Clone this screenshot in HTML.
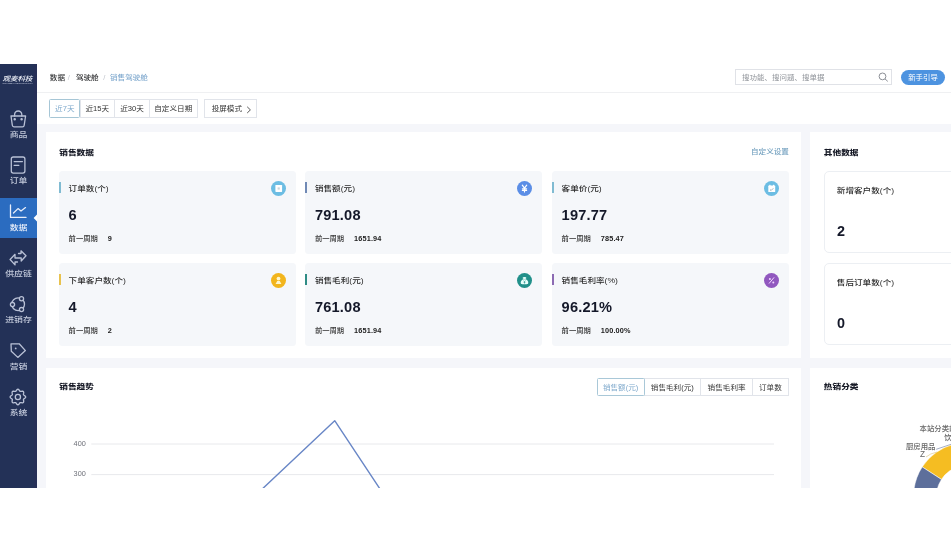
<!DOCTYPE html>
<html><head><meta charset="utf-8">
<style>
*{margin:0;padding:0;box-sizing:border-box}
html,body{width:951px;height:552px;background:#fff;overflow:hidden}
body{position:relative;will-change:transform;font-family:"Liberation Sans","Noto Sans CJK SC",sans-serif;color:#333}
.a{position:absolute;white-space:nowrap}
#side{position:absolute;left:0;top:64px;width:37px;height:424px;background:#233157;box-shadow:inset -3px 0 0 #262f57}
#act{position:absolute;left:0;top:198px;width:37px;height:40px;background:#2b6cc0}
.nt{position:absolute;left:0;width:37px;text-align:center;font-size:8.9px;line-height:10px;color:#c3cadb;font-weight:500;transform:scaleY(.82)}
#bg{position:absolute;left:37px;top:123.5px;width:914px;height:364.5px;background:#f5f6fa}
.card{position:absolute;background:#fff}
.ct{position:absolute;font-size:8.7px;font-weight:900;color:#171a26;line-height:12px;transform:scaleY(.78)}
.sc{position:absolute;width:236.5px;height:83px;background:#f5f7fa;border-radius:3.5px}
.sc .bar{position:absolute;left:0;top:10.8px;width:2.1px;height:11.4px}
.sc .t{position:absolute;left:9.6px;top:11.2px;font-size:8.6px;line-height:12px;color:#2a2a2a;font-weight:500;transform:scaleY(.85)}
.sc .v{position:absolute;left:9.6px;top:36px;font-size:14.6px;line-height:16px;font-weight:bold;color:#141829;letter-spacing:.2px}
.sc .p{position:absolute;left:9.6px;top:63.3px;font-size:7.3px;line-height:10px;color:#333;font-weight:500}
.sc .p b{margin-left:10px;color:#222;letter-spacing:.15px;font-weight:bold}
.sc .ic{position:absolute;right:9.7px;top:10px;width:15px;height:15px;border-radius:50%}
.sc .ic svg{display:block}
.oc{position:absolute;width:140px;height:82px;background:#fff;border:1px solid #eceff3;border-radius:5px}
.oc .t{position:absolute;left:12.3px;top:12.4px;font-size:8.6px;line-height:12px;color:#2a2a2a;font-weight:500;transform:scaleY(.85)}
.oc .v{position:absolute;left:12.6px;top:50.6px;font-size:14.4px;line-height:16px;font-weight:bold;color:#141829}
.q{display:inline-block;transform:scaleY(.85)}
.btn{position:absolute;height:19px;border:1px solid #e1e4ea;background:#fff;font-size:7.6px;line-height:17px;text-align:center;color:#333}
</style></head><body>

<!-- sidebar -->
<div id="side"></div>
<div id="act"></div>
<div class="a" style="left:2.4px;top:74.2px;width:32px;font-size:7.6px;line-height:10px;color:#eef1f8;font-weight:500;font-style:italic;letter-spacing:-.1px;transform:scaleY(.85)">观麦科技</div>
<div class="a" style="left:2.6px;top:82.4px;width:30px;font-size:2.45px;line-height:3px;color:#b3bbd0;letter-spacing:.05px;font-weight:bold">GUANMAI TECHNOLOGY</div>
<svg class="a" style="left:0;top:0" width="37" height="552" viewBox="0 0 37 552" fill="none" stroke="#b9c1d6" stroke-width="1.3" stroke-linecap="round" stroke-linejoin="round">
 <!-- bag -->
 <path d="M14.6,116 V114.6 A3.6,3.6 0 0 1 21.8,114.6 V116"/>
 <path d="M11,116 H25.6 L24.2,125.2 A1.8,1.8 0 0 1 22.4,126.8 H14 A1.8,1.8 0 0 1 12.3,125.2 Z"/>
 <circle cx="14.7" cy="119.3" r=".6" fill="#b9c1d6"/>
 <circle cx="21.6" cy="119.3" r=".6" fill="#b9c1d6"/>
 <!-- order -->
 <rect x="11.3" y="157" width="13.6" height="16.1" rx="2"/>
 <path d="M14.2,161.6 H22.4 M14.2,165.4 H18.8"/>
 <!-- supply chain -->
 <path d="M18.5,253.5 H21 V250.8 L26,255.8 L21.2,261 V258 H15 V254.3 L10.1,259.5 L15,264.9 V262 H17.5"/>
 <!-- stock -->
 <circle cx="18.1" cy="304.3" r="6.4"/>
 <circle cx="21.5" cy="298.8" r="2.1" fill="#243256"/>
 <circle cx="12.5" cy="304.6" r="2.1" fill="#243256"/>
 <circle cx="21.5" cy="309.6" r="2.1" fill="#243256"/>
 <!-- tag -->
 <path d="M11,343.8 H19.2 L25.4,350.6 L17.8,357.4 L11.3,351.3 Z"/>
 <circle cx="15.7" cy="348.4" r=".9" fill="#b9c1d6" stroke="none"/>
 <!-- gear -->
 <path d="M25.65,397.00 L25.52,397.50 L25.16,397.96 L24.67,398.35 L24.15,398.68 L23.74,398.98 L23.49,399.32 L23.43,399.73 L23.51,400.24 L23.64,400.83 L23.71,401.46 L23.64,402.03 L23.38,402.48 L22.93,402.74 L22.36,402.81 L21.73,402.74 L21.14,402.61 L20.63,402.53 L20.22,402.59 L19.88,402.84 L19.58,403.25 L19.25,403.77 L18.86,404.26 L18.40,404.62 L17.90,404.75 L17.40,404.62 L16.94,404.26 L16.55,403.77 L16.22,403.25 L15.92,402.84 L15.58,402.59 L15.17,402.53 L14.66,402.61 L14.07,402.74 L13.44,402.81 L12.87,402.74 L12.42,402.48 L12.16,402.03 L12.09,401.46 L12.16,400.83 L12.29,400.24 L12.37,399.73 L12.31,399.32 L12.06,398.98 L11.65,398.68 L11.13,398.35 L10.64,397.96 L10.28,397.50 L10.15,397.00 L10.28,396.50 L10.64,396.04 L11.13,395.65 L11.65,395.32 L12.06,395.02 L12.31,394.68 L12.37,394.27 L12.29,393.76 L12.16,393.17 L12.09,392.54 L12.16,391.97 L12.42,391.52 L12.87,391.26 L13.44,391.19 L14.07,391.26 L14.66,391.39 L15.17,391.47 L15.58,391.41 L15.92,391.16 L16.22,390.75 L16.55,390.23 L16.94,389.74 L17.40,389.38 L17.90,389.25 L18.40,389.38 L18.86,389.74 L19.25,390.23 L19.58,390.75 L19.88,391.16 L20.22,391.41 L20.63,391.47 L21.14,391.39 L21.73,391.26 L22.36,391.19 L22.93,391.26 L23.38,391.52 L23.64,391.97 L23.71,392.54 L23.64,393.17 L23.51,393.76 L23.43,394.27 L23.49,394.68 L23.74,395.02 L24.15,395.32 L24.67,395.65 L25.16,396.04 L25.52,396.50Z"/>
 <circle cx="17.9" cy="397" r="2.6"/>
</svg>
<!-- data icon (active) -->
<svg class="a" style="left:0;top:0" width="37" height="552" viewBox="0 0 37 552" fill="none" stroke="#e8eefa" stroke-width="1.3" stroke-linecap="round" stroke-linejoin="round">
 <path d="M10.5,205 V217.4 H26"/>
 <path d="M13.5,213 L18,208.6 L21,211 L25.5,207.6"/>
 <path d="M37,214.5 L33.6,218 L37,221.5 Z" fill="#fff" stroke="none"/>
</svg>
<div class="nt" style="top:130px">商品</div>
<div class="nt" style="top:176.1px">订单</div>
<div class="nt" style="top:222.6px;color:#eef2fb">数据</div>
<div class="nt" style="top:268.5px">供应链</div>
<div class="nt" style="top:315.4px">进销存</div>
<div class="nt" style="top:361.9px">营销</div>
<div class="nt" style="top:408px">系统</div>

<!-- header -->
<div class="a" style="left:37px;top:92px;width:914px;height:1px;background:#eff0f2"></div>
<div class="a" style="left:49.8px;top:72.2px;font-size:7.6px;line-height:11px;color:#303133;font-weight:500;transform:scaleY(.86)">数据<span style="color:#c0c4cc;margin:0 6px 0 2.8px;font-weight:400">/</span>驾驶舱<span style="color:#c0c4cc;margin:0 4.6px;font-weight:400">/</span><span style="color:#84acd0">销售驾驶舱</span></div>
<div class="a" style="left:735px;top:69px;width:157px;height:16px;border:1px solid #e0e2e7;background:#fff"></div>
<div class="a" style="left:742px;top:73px;font-size:7.5px;line-height:10px;color:#8f9399;transform:scaleY(.87)">搜功能、搜问题、搜单据</div>
<svg class="a" style="left:876px;top:70px" width="16" height="16" viewBox="0 0 16 16" fill="none" stroke="#8d9097" stroke-width="1"><circle cx="6.5" cy="6.4" r="3.4"/><path d="M9,8.9 L11.8,11.4"/></svg>
<div class="a" style="left:901px;top:70px;width:44px;height:14.6px;border-radius:8px;background:#4d93e0;color:#fff;font-size:7.4px;line-height:16.2px;text-align:center"><span class="q">新手引导</span></div>

<!-- toolbar -->
<div class="btn" style="left:49.3px;top:99px;width:31px;border-color:#a6c6d6;color:#7fa9cc;z-index:2;border-radius:1.5px"><span class="q">近7天</span></div>
<div class="btn" style="left:79.5px;top:99px;width:35.5px"><span class="q">近15天</span></div>
<div class="btn" style="left:114px;top:99px;width:36px"><span class="q">近30天</span></div>
<div class="btn" style="left:149px;top:99px;width:48.5px"><span class="q">自定义日期</span></div>
<div class="btn" style="left:204.2px;top:99px;width:53px;text-align:left;padding-left:6.5px"><span class="q">投屏模式</span><svg style="position:absolute;left:40.5px;top:5.5px" width="6" height="8" viewBox="0 0 6 8" fill="none" stroke="#444" stroke-width=".9"><path d="M1.2,.8 L4.4,3.9 L1.2,7"/></svg></div>

<!-- content bg -->
<div id="bg"></div>

<!-- card A -->
<div class="card" style="left:46px;top:132.3px;width:755px;height:226.1px"></div>
<div class="ct" style="left:59.2px;top:146.5px">销售数据</div>
<div class="a" style="left:751px;top:146.3px;font-size:7.6px;line-height:11px;color:#72a0bf;font-weight:500;transform:scaleY(.87)">自定义设置</div>

<div class="sc" style="left:59px;top:171px"><div class="bar" style="background:#80bbd2"></div><div class="t">订单数(个)</div><div class="v">6</div><div class="p">前一周期<b>9</b></div><div class="ic" style="background:#6cbde3"><svg width="15" height="15" viewBox="0 0 15 15"><rect x="4.4" y="4" width="6.7" height="6.9" rx=".6" fill="#fff"/><rect x="6.6" y="6.4" width="2.2" height="2.2" fill="#c9d4da"/></svg></div></div>
<div class="sc" style="left:305.3px;top:171px"><div class="bar" style="background:#7089b5"></div><div class="t">销售额(元)</div><div class="v">791.08</div><div class="p">前一周期<b>1651.94</b></div><div class="ic" style="background:#5b8ee6"><svg width="15" height="15" viewBox="0 0 15 15" fill="none" stroke="#fff" stroke-width="1.2" stroke-linecap="round"><path d="M5.3,4.2 L7.5,7.2 L9.7,4.2 M7.5,7.2 V11 M5.4,7.8 H9.6 M5.4,9.4 H9.6"/></svg></div></div>
<div class="sc" style="left:552px;top:171px"><div class="bar" style="background:#80bbd2"></div><div class="t">客单价(元)</div><div class="v">197.77</div><div class="p">前一周期<b>785.47</b></div><div class="ic" style="background:#6cbde3"><svg width="15" height="15" viewBox="0 0 15 15"><rect x="4.3" y="4.6" width="6.9" height="6.5" rx=".6" fill="#fff"/><rect x="5.3" y="3.8" width="1.2" height="1.6" fill="#fff"/><rect x="9" y="3.8" width="1.2" height="1.6" fill="#fff"/><path d="M6,8.6 L7.1,9.5 L9.3,7.3" stroke="#8a9aa6" stroke-width=".8" fill="none"/></svg></div></div>
<div class="sc" style="left:59px;top:263px"><div class="bar" style="background:#e8c24e"></div><div class="t">下单客户数(个)</div><div class="v">4</div><div class="p">前一周期<b>2</b></div><div class="ic" style="background:#f2b51d"><svg width="15" height="15" viewBox="0 0 15 15" fill="#fff6cc"><circle cx="7.5" cy="5.6" r="1.9"/><path d="M4.6,10.9 L6.2,7.9 H8.8 L10.4,10.9 Z"/></svg></div></div>
<div class="sc" style="left:305.3px;top:263px"><div class="bar" style="background:#2f8c85"></div><div class="t">销售毛利(元)</div><div class="v">761.08</div><div class="p">前一周期<b>1651.94</b></div><div class="ic" style="background:#21908a"><svg width="15" height="15" viewBox="0 0 15 15"><ellipse cx="7.5" cy="5" rx="1.9" ry="1.1" fill="#e8fffb"/><path d="M6.2,6.3 H8.8 C10.6,7.3 11.6,8.6 11.2,10.3 C11,11 10.4,11.2 9.6,11.2 H5.4 C4.6,11.2 4,11 3.8,10.3 C3.4,8.6 4.4,7.3 6.2,6.3 Z" fill="#e8fffb"/><path d="M6.6,7.6 L7.5,8.8 L8.4,7.6 M7.5,8.8 V10.6 M6.6,9.4 H8.4" stroke="#21908a" stroke-width=".6" fill="none"/></svg></div></div>
<div class="sc" style="left:552px;top:263px"><div class="bar" style="background:#8c6bb3"></div><div class="t">销售毛利率(%)</div><div class="v">96.21%</div><div class="p">前一周期<b>100.00%</b></div><div class="ic" style="background:#9158bf"><svg width="15" height="15" viewBox="0 0 15 15" fill="#f3d6ff"><circle cx="5.9" cy="5.9" r="1"/><circle cx="9.3" cy="9.4" r="1"/><path d="M10.1,4.4 L5,10.5" stroke="#f3d6ff" stroke-width="1"/></svg></div></div>

<!-- card B -->
<div class="card" style="left:810px;top:132.3px;width:160px;height:226.1px"></div>
<div class="ct" style="left:823.8px;top:146.5px">其他数据</div>
<div class="oc" style="left:823.5px;top:171px"><div class="t">新增客户数(个)</div><div class="v">2</div></div>
<div class="oc" style="left:823.5px;top:263px"><div class="t">售后订单数(个)</div><div class="v">0</div></div>

<!-- card C -->
<div class="card" style="left:46px;top:368.3px;width:755px;height:130px"></div>
<div class="ct" style="left:59.2px;top:380.7px">销售趋势</div>
<div class="btn" style="left:596.6px;top:378px;width:48px;height:18.3px;border-color:#a9c8d8;color:#7fa9cc;z-index:2;line-height:17px;border-radius:1.5px"><span class="q">销售额(元)</span></div>
<div class="btn" style="left:643.6px;top:378px;width:57.5px;height:18.3px;line-height:17px"><span class="q">销售毛利(元)</span></div>
<div class="btn" style="left:700.1px;top:378px;width:53px;height:18.3px;line-height:17px"><span class="q">销售毛利率</span></div>
<div class="btn" style="left:752.1px;top:378px;width:36.6px;height:18.3px;line-height:17px"><span class="q">订单数</span></div>
<div class="a" style="left:73.6px;top:438.6px;font-size:7.3px;line-height:10px;color:#6e7079">400</div>
<div class="a" style="left:73.6px;top:469.4px;font-size:7.3px;line-height:10px;color:#6e7079">300</div>
<svg class="a" style="left:0;top:0" width="951" height="488" viewBox="0 0 951 488" fill="none">
 <path d="M91.3,444 H774 M91.3,474.6 H774" stroke="#e5e6ea" stroke-width=".9"/>
 <path d="M258,493 L334.7,420.7 L382,492" stroke="#6886c6" stroke-width="1.4" stroke-linejoin="round"/>
</svg>

<!-- card D -->
<div class="card" style="left:810px;top:368.3px;width:160px;height:130px"></div>
<div class="ct" style="left:823.8px;top:380.7px">热销分类</div>
<svg class="a" style="left:0;top:0" width="951" height="488" viewBox="0 0 951 488">
 <path d="M922.21,466.92 A53.4,53.4 0 0 1 993.70,449.75 L982.25,469.59 A30.5,30.5 0 0 0 941.42,479.39 Z" fill="#f5bd22" stroke="#fff" stroke-width=".5"/>
 <path d="M948.74,546.18 A53.4,53.4 0 0 1 922.21,466.92 L941.42,479.39 A30.5,30.5 0 0 0 956.57,524.66 Z" fill="#5d6f9b" stroke="#fff" stroke-width=".5"/>
 <path d="M936.2,449.3 L951,444.3" stroke="#6a7aa3" stroke-width=".6" fill="none"/>
 <path d="M926,457 Q930,453.5 937,452" stroke="#d8c27a" stroke-width=".6" fill="none"/>
</svg>
<div class="a" style="left:919.5px;top:423.9px;font-size:7.4px;line-height:10px;color:#666;font-weight:500">本站分类前十</div>
<div class="a" style="left:944.2px;top:432.5px;font-size:7.4px;line-height:10px;color:#666;font-weight:500">饮品</div>
<div class="a" style="left:905.9px;top:441.7px;font-size:7.4px;line-height:10px;color:#666;font-weight:500">厨房用品</div>
<div class="a" style="left:920px;top:449.4px;font-size:8.2px;line-height:11px;color:#666">Z</div>

<!-- bottom white -->
<div class="a" style="left:0;top:488px;width:951px;height:64px;background:#fff"></div>
</body></html>
